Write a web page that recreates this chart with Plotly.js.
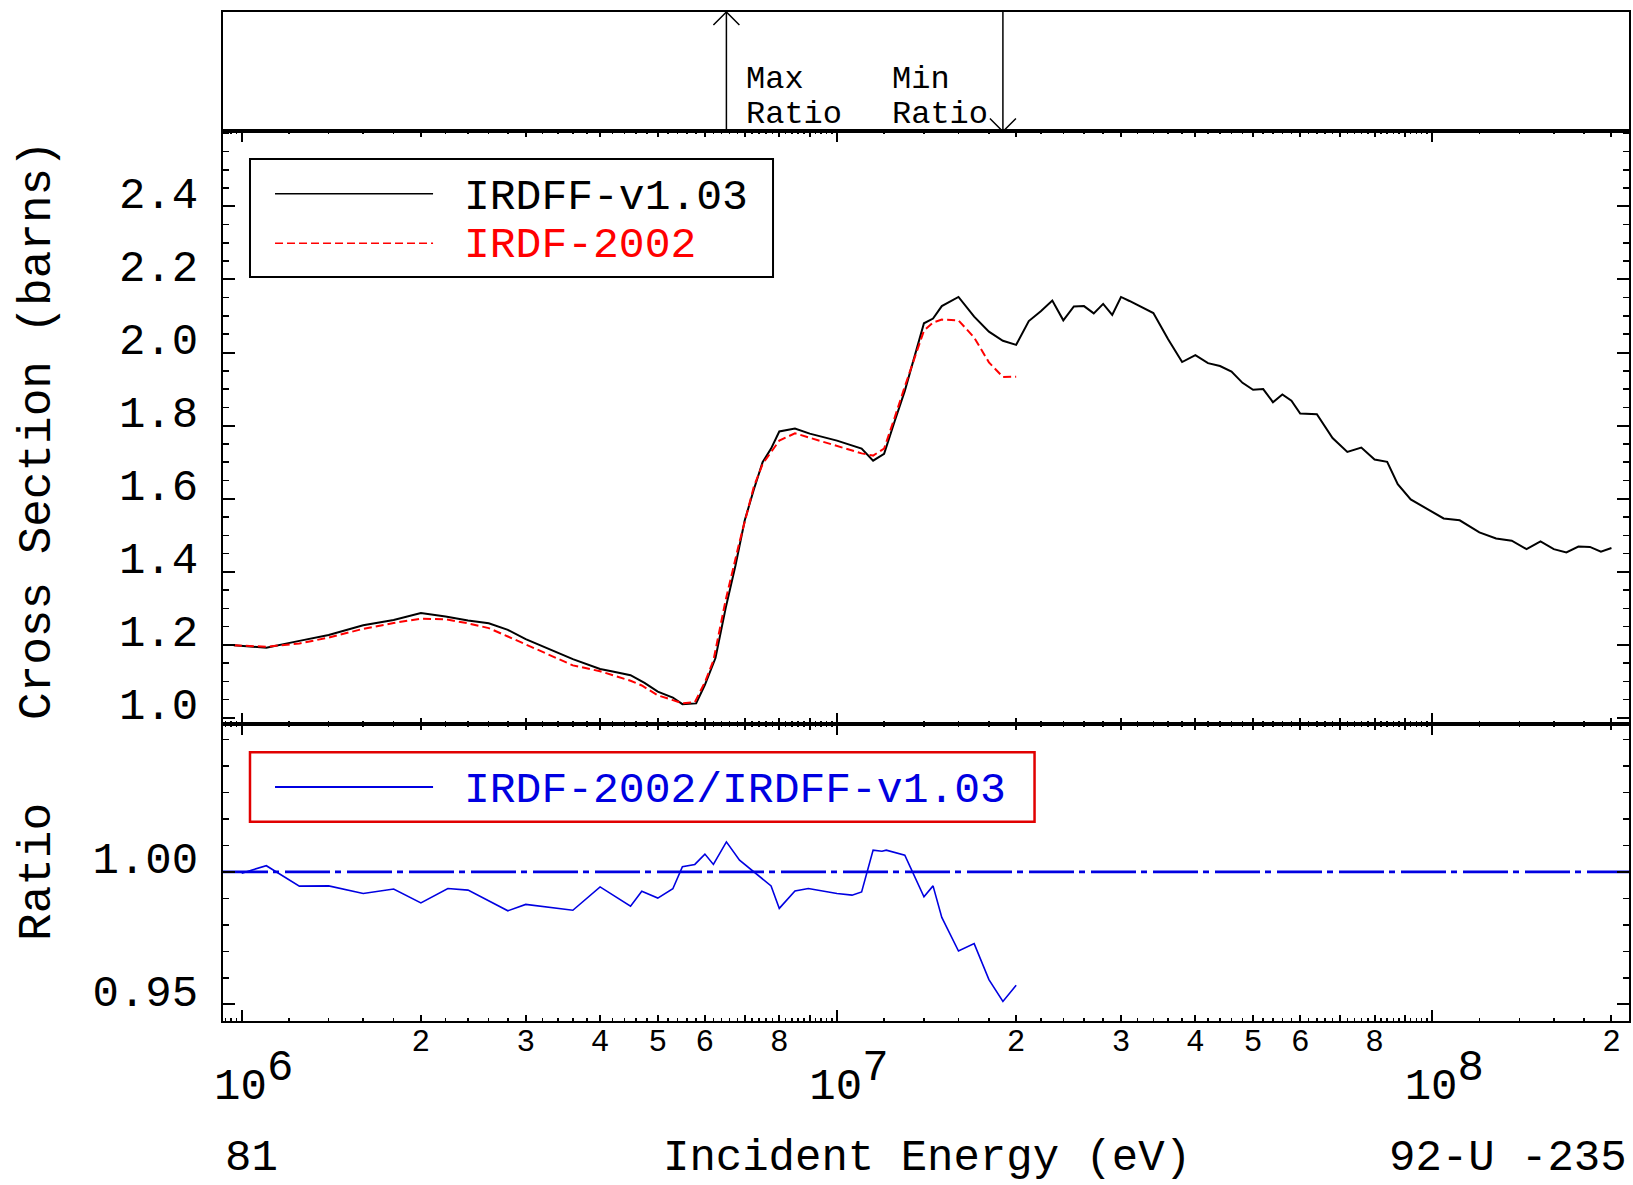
<!DOCTYPE html>
<html>
<head>
<meta charset="utf-8">
<script src="https://cdn.plot.ly/plotly-3.0.1.min.js"></script>
<style>
html,body{margin:0;padding:0;background:#fff;}
#chart{width:1633px;height:1185px;}
</style>
</head>
<body>
<div id="chart"></div>
<script>
// ---------------- data ----------------
const energyIRDFF = [9.7e5,1.1e6,1.25e6,1.4e6,1.6e6,1.8e6,2.0e6,2.2e6,2.4e6,2.6e6,2.8e6,3.0e6,3.6e6,4.0e6,4.2e6,4.5e6,4.75e6,5.0e6,5.3e6,5.5e6,5.8e6,6.0e6,6.25e6,6.5e6,6.75e6,7.0e6,7.25e6,7.5e6,7.75e6,8.0e6,8.5e6,9.0e6,1.0e7,1.05e7,1.1e7,1.15e7,1.2e7,1.25e7,1.3e7,1.4e7,1.45e7,1.5e7,1.6e7,1.7e7,1.8e7,1.9e7,2.0e7,2.1e7,2.2e7,2.3e7,2.4e7,2.5e7,2.6e7,2.7e7,2.8e7,2.9e7,3.0e7,3.1e7,3.2e7,3.4e7,3.6e7,3.8e7,4.0e7,4.2e7,4.4e7,4.6e7,4.8e7,5.0e7,5.2e7,5.4e7,5.6e7,5.8e7,6.0e7,6.4e7,6.8e7,7.2e7,7.6e7,8.0e7,8.4e7,8.75e7,9.2e7,1.045e8,1.112e8,1.2e8,1.28e8,1.36e8,1.44e8,1.52e8,1.6e8,1.68e8,1.76e8,1.84e8,1.92e8,2.0e8];
const xsIRDFF = [1.199,1.192,1.211,1.227,1.254,1.268,1.287,1.278,1.267,1.259,1.241,1.216,1.161,1.134,1.127,1.117,1.096,1.072,1.056,1.038,1.040,1.091,1.164,1.300,1.416,1.541,1.625,1.700,1.737,1.784,1.792,1.778,1.759,1.748,1.737,1.704,1.723,1.812,1.895,2.080,2.093,2.127,2.152,2.098,2.057,2.032,2.021,2.086,2.113,2.142,2.088,2.126,2.127,2.107,2.133,2.103,2.152,2.141,2.130,2.108,2.036,1.974,1.993,1.971,1.963,1.948,1.917,1.898,1.900,1.864,1.885,1.868,1.833,1.831,1.766,1.728,1.740,1.707,1.701,1.640,1.598,1.546,1.541,1.508,1.491,1.485,1.462,1.483,1.462,1.453,1.469,1.468,1.455,1.465];

const energyIRDF = [9.7e5,1.1e6,1.25e6,1.4e6,1.6e6,1.8e6,2.0e6,2.2e6,2.4e6,2.6e6,2.8e6,3.0e6,3.6e6,4.0e6,4.5e6,4.7e6,5.0e6,5.3e6,5.5e6,5.77e6,6.0e6,6.2e6,6.5e6,6.85e6,7.25e6,7.5e6,7.75e6,8.0e6,8.5e6,9.0e6,1.0e7,1.06e7,1.1e7,1.15e7,1.2e7,1.25e7,1.3e7,1.4e7,1.45e7,1.5e7,1.6e7,1.7e7,1.8e7,1.9e7,2.0e7];
const xsIRDF = [1.199,1.195,1.204,1.220,1.244,1.260,1.272,1.270,1.259,1.246,1.223,1.201,1.144,1.128,1.102,1.089,1.062,1.049,1.040,1.043,1.098,1.157,1.322,1.478,1.633,1.695,1.727,1.759,1.779,1.767,1.745,1.732,1.724,1.718,1.737,1.822,1.907,2.060,2.082,2.090,2.088,2.041,1.973,1.933,1.934];

const energyRatio = [1.0e6,1.1e6,1.25e6,1.4e6,1.6e6,1.8e6,2.0e6,2.22e6,2.4e6,2.8e6,3.0e6,3.6e6,4.0e6,4.5e6,4.7e6,5.0e6,5.3e6,5.5e6,5.77e6,6.0e6,6.2e6,6.52e6,6.86e6,7.25e6,7.75e6,8.0e6,8.5e6,8.95e6,1.0e7,1.06e7,1.1e7,1.15e7,1.19e7,1.21e7,1.3e7,1.4e7,1.45e7,1.5e7,1.6e7,1.7e7,1.8e7,1.9e7,2.0e7];
const ratioValues = [0.9995,1.0023,0.9946,0.9947,0.9918,0.9935,0.9883,0.9937,0.9931,0.9853,0.9877,0.9855,0.9943,0.9870,0.9927,0.9901,0.9936,1.0019,1.0028,1.0067,1.0028,1.0113,1.0044,1.0000,0.9947,0.9862,0.9928,0.9937,0.9918,0.9912,0.9924,1.0082,1.0078,1.0082,1.0063,0.9906,0.9947,0.9828,0.9701,0.9729,0.9593,0.9511,0.9572];

const seriesNames = ['IRDFF-v1.03','IRDF-2002','IRDF-2002/IRDFF-v1.03'];

// tick values and labels
const decadeTickVals = [1e6,1e7,1e8];
const decadeTickText = ['10<sup><span style="font-size:44px">6</span></sup>','10<sup><span style="font-size:44px">7</span></sup>','10<sup><span style="font-size:44px">8</span></sup>'];
const labeledIntTickVals = [2e6,3e6,4e6,5e6,6e6,8e6,2e7,3e7,4e7,5e7,6e7,8e7,2e8];
const labeledIntTickText = ['2','3','4','5','6','8','2','3','4','5','6','8','2'];
const unlabeledIntTickVals = [7e6,9e6,7e7,9e7];
const xsTickVals = [1.0,1.2,1.4,1.6,1.8,2.0,2.2,2.4];
const xsTickText = ['1.0','1.2','1.4','1.6','1.8','2.0','2.2','2.4'];
const ratioTickVals = [0.95,1.00];
const ratioTickText = ['0.95','1.00'];

// ---------------- layout helpers ----------------
const FONT = 'Liberation Mono, Courier New, monospace';
const X_RANGE = [5.9686, 8.3305];
const LO = Math.pow(10, X_RANGE[0]), HI = Math.pow(10, X_RANGE[1]);
const fineTicks = [];
for (let e = 5; e <= 8; e++) {
  for (let j = 6; j < 50; j++) {
    if (j % 5 === 0) continue;
    const v = (j / 5) * Math.pow(10, e);
    if (v >= LO && v <= HI) fineTicks.push(v);
  }
}

let iMax = 0, iMin = 0;
ratioValues.forEach((v, i) => { if (v > ratioValues[iMax]) iMax = i; if (v < ratioValues[iMin]) iMin = i; });
const eMax = energyRatio[iMax], eMin = energyRatio[iMin];

const BLUE = 'rgb(0,0,225)';
const RED = 'rgb(255,0,0)';

const traces = [
  {x: energyIRDFF, y: xsIRDFF, xaxis: 'x', yaxis: 'y', mode: 'lines', name: seriesNames[0],
   line: {color: '#000', width: 2}},
  {x: energyIRDF, y: xsIRDF, xaxis: 'x', yaxis: 'y', mode: 'lines', name: seriesNames[1],
   line: {color: RED, width: 2, dash: '8px,4px'}},
  {x: energyRatio, y: ratioValues, xaxis: 'x2', yaxis: 'y2', mode: 'lines', name: seriesNames[2],
   line: {color: BLUE, width: 1.6}},
  {x: [], y: [], xaxis: 'x3', yaxis: 'y', mode: 'lines', showlegend: false},
  {x: [], y: [], xaxis: 'x4', yaxis: 'y2', mode: 'lines', showlegend: false},
  {x: [], y: [], xaxis: 'x5', yaxis: 'y5', mode: 'lines', showlegend: false}
];

const dMainTop = 0.88157, dMainBot = 0.29435;

function xBase(extra) {
  return Object.assign({
    type: 'log', range: X_RANGE, domain: [0, 1], showgrid: false, zeroline: false,
    showline: true, linecolor: '#000', linewidth: 2, mirror: 'ticks',
    ticks: 'inside', tickcolor: '#000', tickwidth: 2, ticklen: 11,
    tickmode: 'array', tickvals: decadeTickVals,
    minor: {tickmode: 'array', tickvals: fineTicks, ticks: 'inside', ticklen: 3, tickwidth: 1.5, tickcolor: '#000', showgrid: false}
  }, extra);
}
function xOverlay(extra) {
  return Object.assign({
    type: 'log', range: X_RANGE, domain: [0, 1], showgrid: false, zeroline: false,
    showline: false, mirror: 'ticks', ticks: 'inside', tickcolor: '#000', tickwidth: 2, ticklen: 6,
    tickmode: 'array', tickvals: labeledIntTickVals, ticktext: labeledIntTickText,
    minor: {tickmode: 'array', tickvals: unlabeledIntTickVals, ticks: 'inside', ticklen: 6, tickwidth: 2, tickcolor: '#000', showgrid: false}
  }, extra);
}

const layout = {
  width: 1633, height: 1185,
  margin: {l: 223, r: 4, t: 12, b: 164, pad: 0},
  paper_bgcolor: '#fff', plot_bgcolor: '#fff',
  showlegend: false, hovermode: false,
  font: {family: FONT, color: '#000', size: 44},
  xaxis: xBase({anchor: 'y', showticklabels: false}),
  xaxis2: xBase({anchor: 'y2', ticktext: decadeTickText, showticklabels: true,
    tickfont: {family: FONT, size: 44, color: '#000'}, ticklabelstandoff: 23, ticklabelshift: 12}),
  xaxis3: xOverlay({overlaying: 'x', anchor: 'y', showticklabels: false}),
  xaxis4: xOverlay({overlaying: 'x2', anchor: 'y2', showticklabels: true,
    tickfont: {family: FONT, size: 31, color: '#000'}, ticklabelstandoff: -2}),
  xaxis5: {type: 'log', range: X_RANGE, domain: [0, 1], anchor: 'y5', showline: true, mirror: true,
    linecolor: '#000', linewidth: 2, ticks: '', showticklabels: false, showgrid: false, zeroline: false},
  yaxis: {domain: [dMainBot, dMainTop], range: [0.9836, 2.6047], anchor: 'x',
    showline: true, linecolor: '#000', linewidth: 2, mirror: 'ticks', showgrid: false, zeroline: false,
    ticks: 'inside', ticklen: 12, tickwidth: 2, tickcolor: '#000',
    tickmode: 'array', tickvals: xsTickVals, ticktext: xsTickText,
    tickfont: {family: FONT, size: 44, color: '#000'}, ticklabelstandoff: 14, ticklabelshift: -14,
    minor: {dtick: 0.05, tick0: 0, ticks: 'inside', ticklen: 6, tickwidth: 1.5, tickcolor: '#000', showgrid: false}},
  yaxis2: {domain: [0, dMainBot], range: [0.9437, 1.0558], anchor: 'x2',
    showline: true, linecolor: '#000', linewidth: 2, mirror: 'ticks', showgrid: false, zeroline: false,
    ticks: 'inside', ticklen: 12, tickwidth: 2, tickcolor: '#000',
    tickmode: 'array', tickvals: ratioTickVals, ticktext: ratioTickText,
    tickfont: {family: FONT, size: 44, color: '#000'}, ticklabelstandoff: 14, ticklabelshift: -14,
    minor: {dtick: 0.01, tick0: 0, ticks: 'inside', ticklen: 6, tickwidth: 1.5, tickcolor: '#000', showgrid: false}},
  yaxis5: {domain: [dMainTop, 1], range: [0, 1], anchor: 'x5', showline: true, mirror: true,
    linecolor: '#000', linewidth: 2, ticks: '', showticklabels: false, showgrid: false, zeroline: false},
  shapes: [
    // ratio = 1 reference line
    {type: 'line', xref: 'x2 domain', x0: 0, x1: 1, yref: 'y2', y0: 1, y1: 1, layer: 'below',
     line: {color: BLUE, width: 2.8, dash: '45px,5px,6px,6px'}},
    // max / min ratio markers
    {type: 'line', xref: 'x5', yref: 'y5', x0: eMax, x1: eMax, y0: 0, y1: 1, line: {color: '#000', width: 1.5}},
    {type: 'path', xref: 'x5', yref: 'y5', xsizemode: 'pixel', ysizemode: 'pixel', xanchor: eMax, yanchor: 1,
     path: 'M-13,-13L0,0L13,-13', line: {color: '#000', width: 1.5}},
    {type: 'line', xref: 'x5', yref: 'y5', x0: eMin, x1: eMin, y0: 0, y1: 1, line: {color: '#000', width: 1.5}},
    {type: 'path', xref: 'x5', yref: 'y5', xsizemode: 'pixel', ysizemode: 'pixel', xanchor: eMin, yanchor: 0,
     path: 'M-13,13L0,0L13,13', line: {color: '#000', width: 1.5}},
    // legend (cross sections)
    {type: 'rect', xref: 'paper', yref: 'paper', x0: 0.0192, x1: 0.3912, y0: 0.7374, y1: 0.8543,
     line: {color: '#000', width: 2}, fillcolor: 'rgba(0,0,0,0)'},
    {type: 'line', xref: 'paper', yref: 'paper', x0: 0.0370, x1: 0.1494, y0: 0.8199, y1: 0.8199,
     line: {color: '#000', width: 1.6}},
    {type: 'line', xref: 'paper', yref: 'paper', x0: 0.0370, x1: 0.1494, y0: 0.7708, y1: 0.7708,
     line: {color: RED, width: 1.6, dash: '8px,4px'}},
    // legend (ratio)
    {type: 'rect', xref: 'paper', yref: 'paper', x0: 0.0192, x1: 0.5772, y0: 0.1975, y1: 0.2663,
     line: {color: 'rgb(225,0,0)', width: 2.5}, fillcolor: 'rgba(0,0,0,0)'},
    {type: 'line', xref: 'paper', yref: 'paper', x0: 0.0370, x1: 0.1494, y0: 0.2319, y1: 0.2319,
     line: {color: BLUE, width: 2}}
  ],
  annotations: [
    {text: 'Max', xref: 'x5', x: Math.log10(eMax), xanchor: 'left', xshift: 18, yref: 'y5', y: 0.431, yanchor: 'middle',
     showarrow: false, font: {family: FONT, size: 32, color: '#000'}},
    {text: 'Ratio', xref: 'x5', x: Math.log10(eMax), xanchor: 'left', xshift: 18, yref: 'y5', y: 0.143, yanchor: 'middle',
     showarrow: false, font: {family: FONT, size: 32, color: '#000'}},
    {text: 'Min', xref: 'x5', x: Math.log10(eMin), xanchor: 'left', xshift: -113, yref: 'y5', y: 0.431, yanchor: 'middle',
     showarrow: false, font: {family: FONT, size: 32, color: '#000'}},
    {text: 'Ratio', xref: 'x5', x: Math.log10(eMin), xanchor: 'left', xshift: -113, yref: 'y5', y: 0.143, yanchor: 'middle',
     showarrow: false, font: {family: FONT, size: 32, color: '#000'}},
    // legend texts
    {text: seriesNames[0], xref: 'paper', yref: 'paper', x: 0.1700, y: 0.8162, xanchor: 'left', yanchor: 'middle',
     showarrow: false, font: {family: FONT, size: 43, color: '#000'}},
    {text: seriesNames[1], xref: 'paper', yref: 'paper', x: 0.1700, y: 0.7681, xanchor: 'left', yanchor: 'middle',
     showarrow: false, font: {family: FONT, size: 43, color: RED}},
    {text: seriesNames[2], xref: 'paper', yref: 'paper', x: 0.1700, y: 0.2289, xanchor: 'left', yanchor: 'middle',
     showarrow: false, font: {family: FONT, size: 43, color: BLUE}},
    // axis titles
    {text: 'Cross Section (barns)', xref: 'paper', yref: 'paper', x: -0.1316, y: 0.5857, textangle: -90,
     xanchor: 'center', yanchor: 'middle', showarrow: false, font: {family: FONT, size: 46, color: '#000'}},
    {text: 'Ratio', xref: 'paper', yref: 'paper', x: -0.1316, y: 0.1477, textangle: -90,
     xanchor: 'center', yanchor: 'middle', showarrow: false, font: {family: FONT, size: 46, color: '#000'}},
    {text: 'Incident Energy (eV)', xref: 'paper', yref: 'paper', x: 0.5007, y: -0.1362,
     xanchor: 'center', yanchor: 'middle', showarrow: false, font: {family: FONT, size: 44, color: '#000'}},
    {text: '81', xref: 'paper', yref: 'paper', x: 0, y: -0.1362,
     xanchor: 'left', yanchor: 'middle', showarrow: false, font: {family: FONT, size: 44, color: '#000'}},
    {text: '92-U -235', xref: 'paper', yref: 'paper', x: 1, y: -0.1362,
     xanchor: 'right', yanchor: 'middle', showarrow: false, font: {family: FONT, size: 44, color: '#000'}}
  ]
};

Plotly.newPlot('chart', traces, layout, {staticPlot: true, displayModeBar: false});
</script>
</body>
</html>
